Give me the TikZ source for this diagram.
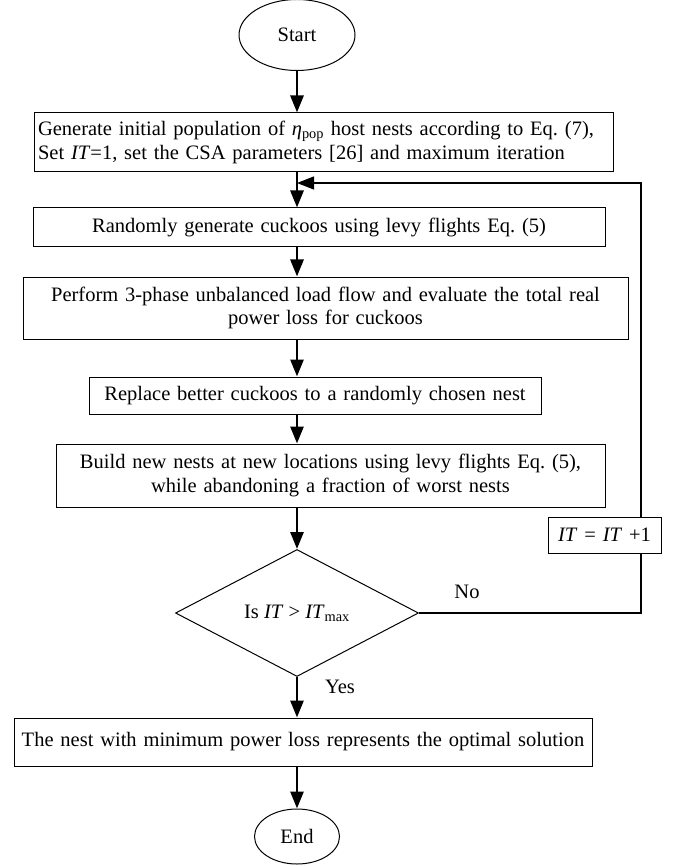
\documentclass[tikz,border=0pt]{standalone}
\usepackage{fontspec}
\setmainfont{Liberation Serif}
\usetikzlibrary{shapes.geometric,arrows.meta}

\tikzset{
    stepbox/.style={draw, line width=1pt, rectangle, inner xsep=4pt, inner ysep=0pt, align=center},
    endpoint/.style={draw, line width=1pt, ellipse, inner sep=0pt},
    decision/.style={draw, line width=1pt, diamond, inner sep=0pt, aspect=2},
    flow/.style={-{Triangle[width=13pt,length=17pt]}, line width=2.8pt},
    loopline/.style={line width=1.3pt}
}

\begin{document}
\begin{tikzpicture}[x=1pt, y=-1pt, font=\fontsize{20.5}{23.5}\selectfont\frenchspacing]
    \useasboundingbox (0,0) rectangle (676,866);

    % Terminals
    \node[endpoint, minimum width=116pt, minimum height=71pt] (start) at (297,35) {Start};
    \node[endpoint, minimum width=85pt, minimum height=55pt] (stop) at (297,836.5) {End};

    % Process steps
    \node[stepbox, align=left, text width=571pt, minimum height=59pt] (init) at (323.5,142.5)
        {Generate initial population of \textit{η}\textsubscript{pop} host nests according to Eq. (7),\\
         Set \textit{IT}=1, set the CSA parameters [26] and maximum iteration};
    \node[stepbox, text width=564pt, minimum height=39pt] (levy) at (319,227.5)
        {Randomly generate cuckoos using levy flights Eq. (5)};
    \node[stepbox, text width=597pt, minimum height=62pt] (loadflow) at (325.5,308)
        {Perform 3-phase unbalanced load flow and evaluate the total real\\ power loss for cuckoos};
    \node[stepbox, text width=444pt, minimum height=37pt] (replace) at (315,395.5)
        {Replace better cuckoos to a randomly chosen nest};
    \node[stepbox, text width=541pt, minimum height=63pt] (build) at (330.5,475.5)
        {Build new nests at new locations using levy flights Eq. (5),\\ while abandoning a fraction of worst nests};

    % Check and counter
    \node[decision, minimum width=243pt, minimum height=127pt] (check) at (297,613)
        {Is \textit{IT} > \textit{IT}\textsubscript{max}};
    \node[stepbox, text width=105pt, minimum height=36pt] (count) at (604.5,535)
        {\textit{IT} = \textit{IT} +1};
    \node[stepbox, text width=570pt, minimum height=48pt] (result) at (303,742)
        {The nest with minimum power loss represents the optimal solution};

    % Labels on the branches
    \node (no) at (467,592) {No};
    \node (yes) at (340,687) {Yes};

    % Main flow
    \coordinate (loopx) at (641,0);
    \coordinate (back) at (297,183);
    \draw[flow] (start.south) -- (start.south |- init.north);
    \draw[flow] (start |- init.south) -- (start |- levy.north);
    \draw[flow] (start |- levy.south) -- (start |- loadflow.north);
    \draw[flow] (start |- loadflow.south) -- (start |- replace.north);
    \draw[flow] (start |- replace.south) -- (start |- build.north);
    \draw[flow] (start |- build.south) -- (check.north);
    \draw[flow] (check.south) -- (check.south |- result.north);
    \draw[flow] (check |- result.south) -- (stop.north);

    % Loop back
    \draw[loopline] (check.east) -- (check.east -| loopx) -- (count.south -| loopx);
    \draw[loopline, -{Triangle[width=13pt,length=17pt]}] (count.north -| loopx) |- (back);
\end{tikzpicture}
\end{document}
